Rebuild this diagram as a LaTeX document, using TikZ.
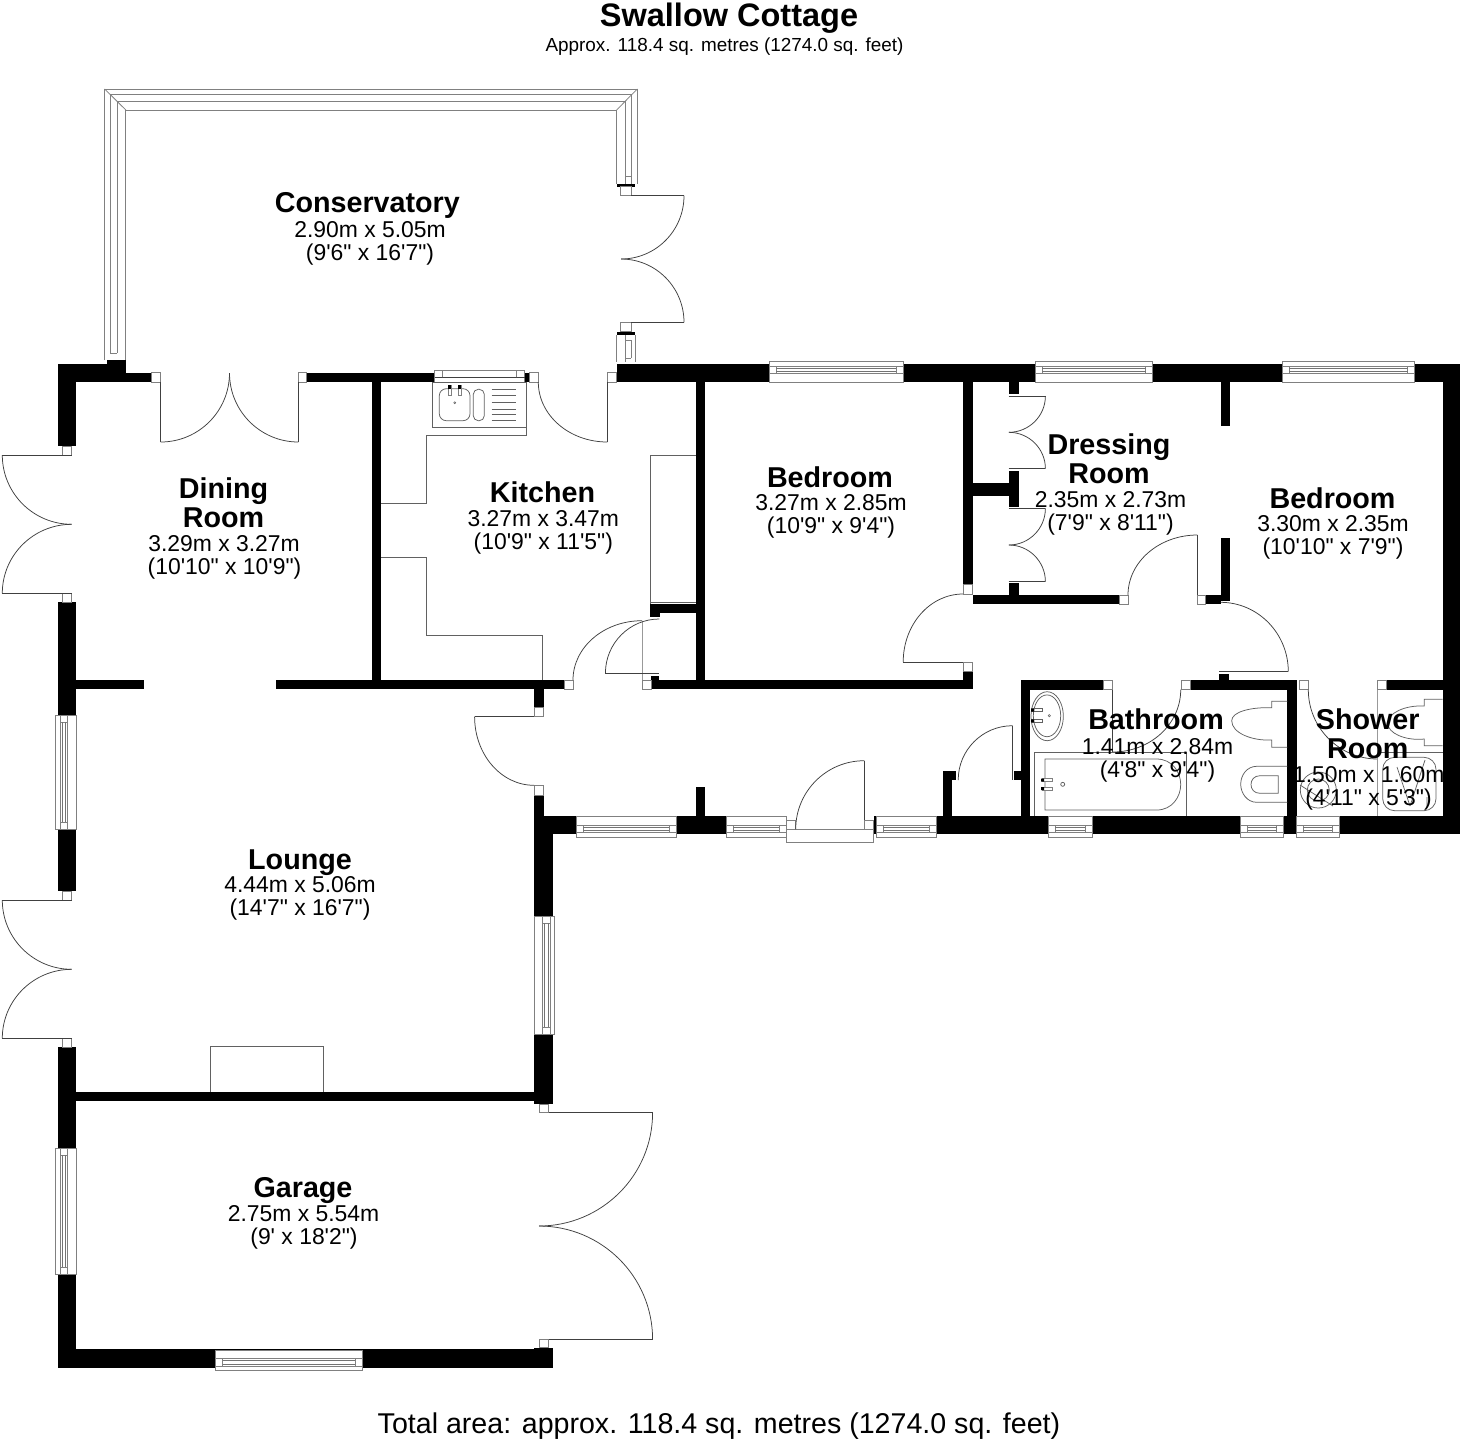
\documentclass[tikz,border=0pt]{standalone}
\usepackage{fontspec}
\usetikzlibrary{calc}
\newfontfamily\lab{Liberation Sans}
\tikzset{
  wall/.style={fill=black,draw=none},
  thinln/.style={draw=black!62,line width=0.75pt},
  darkln/.style={draw=black!75,line width=0.75pt},
  bandln/.style={draw=black!55,line width=0.7pt},
  win/.style={draw=black!50,fill=white,line width=0.75pt},
  lightln/.style={draw=black!40,line width=0.8pt},
  namelbl/.style={anchor=base,yshift=-1.3pt,inner sep=0pt,font=\lab\bfseries\fontsize{28.7}{30}\selectfont},
  sizelbl/.style={anchor=base,yshift=-0.8pt,inner sep=0pt,font=\lab\fontsize{22.9}{24}\selectfont},
}
\newcommand\Wl[4]{\fill[wall] (#1,#2) rectangle (#3,#4);}
\newcommand\Jb[4]{\filldraw[win] (#1,#2) rectangle (#3,#4);}
\newcommand\Qa[6]{\draw[darkln] (#1,#2) .. controls ($(#1,#2)!0.5523!(#3,#4)$) and ($(#5,#6)!0.5523!(#3,#4)$) .. (#5,#6);}
\newcommand\WinH[4]{\begin{scope}[shift={(#1,#3)},yscale=#4]\pgfmathsetmacro\ww{#2-#1}\pgfmathsetmacro\wi{\ww-7}
  \filldraw[win] (0,0) rectangle (\ww,20.6);
  \draw[win] (0,8.6) -- (\ww,8.6) (0,16) -- (\ww,16) (7,8.6) -- (7,16) (\wi,8.6) -- (\wi,16);
  \draw[bandln] (7,10.8) -- (\wi,10.8) (7,14) -- (\wi,14);
\end{scope}}
\newcommand\WinV[4]{\begin{scope}[shift={(#3,#1)},xscale=#4]\pgfmathsetmacro\ww{#2-#1}\pgfmathsetmacro\wi{\ww-7}
  \filldraw[win] (0,0) rectangle (20.6,\ww);
  \draw[win] (8.6,0) -- (8.6,\ww) (16,0) -- (16,\ww) (8.6,7) -- (16,7) (8.6,\wi) -- (16,\wi);
  \draw[bandln] (10.8,7) -- (10.8,\wi) (14,7) -- (14,\wi);
\end{scope}}
\begin{document}
\begin{tikzpicture}[x=1pt,y=-1pt]
\path[use as bounding box,fill=white] (0,0) rectangle (1463,1444);
% ---- conservatory frame
\draw[win,fill=none] (104.7,360) -- (104.7,89) -- (637.3,89) -- (637.3,184);
\draw[win,fill=none] (110,353) -- (110,94) -- (631,94) -- (631,184);
\draw[win,fill=none] (117,353) -- (117,101) -- (625.3,101) -- (625.3,184);
\draw[win,fill=none] (125.8,360) -- (125.8,110) -- (616.6,110) -- (616.6,184);
\draw[win,fill=none] (104.7,89) -- (125.8,110) (637.3,89) -- (616.6,110);
\draw[win,fill=none] (110,353) -- (117,353) (625.3,176) -- (631,176);
\Wl{616.6}{184}{635}{186.7}
\Jb{620.8}{186.7}{631.3}{195.7}
\Jb{620.8}{322.3}{631.3}{331.7}
\Wl{616.6}{331.7}{635}{335}
\draw[win,fill=none] (616.6,335) -- (616.6,362) (635,335) -- (635,362) (625.3,335) -- (625.3,362) (631,340) -- (631,358) (625.3,340) -- (631,340) (625.3,358) -- (631,358);
% ---- walls
\Wl{57.7}{364}{76.3}{446}
\Wl{57.7}{364}{125.8}{381.7}
\Wl{107.4}{360}{125.8}{364}
\Wl{125.8}{372.7}{151.5}{381.7}
\Wl{306.7}{372.7}{434.8}{381.7}
\Wl{372.3}{381.7}{381.3}{680}
\Wl{524.7}{372.7}{529}{382}
\Wl{616.7}{364}{1460}{382}
\Wl{1442.5}{364}{1460}{834}
\Wl{695.7}{382}{705}{689.3}
\Wl{650.3}{604}{705}{613.3}
\Wl{650.3}{604}{659.7}{617.3}
\Wl{651}{680}{972.5}{689.3}
\Wl{651}{676}{659.3}{689.3}
\Wl{963}{671}{972.5}{689.3}
\Wl{963}{382}{972.5}{584}
\Wl{972.5}{482.7}{1008.5}{495.7}
\Wl{1008.5}{382}{1018.5}{394.3}
\Wl{1008.5}{470.7}{1018.5}{507.3}
\Wl{1008.5}{583}{1018.5}{595}
\Wl{972.5}{595}{1118.9}{604.3}
\Wl{1220.5}{382}{1230.3}{425.7}
\Wl{1220.5}{537.7}{1230.3}{601}
\Wl{1205.8}{595}{1220.5}{604.3}
\Wl{57.7}{602.3}{76.3}{715}
\Wl{57.7}{829}{76.3}{891.3}
\Wl{57.7}{1047}{76.3}{1148.3}
\Wl{57.7}{1274.3}{76.3}{1368.3}
\Wl{76.3}{680}{143.7}{689.3}
\Wl{275.7}{680}{564}{689.3}
\Wl{534}{689.3}{543.5}{707.7}
\Wl{534}{795}{543.5}{816}
\Wl{534}{816}{552.9}{916}
\Wl{534}{1034}{552.9}{1104}
\Wl{534}{816}{786.4}{834}
\Wl{873.6}{816}{1460}{834}
\Wl{76.3}{1091.7}{534.3}{1101}
\Wl{57.7}{1349.3}{552.9}{1368.3}
\Wl{534.3}{1347.7}{552.9}{1368.3}
\Wl{695.7}{787.3}{705.4}{816}
\Wl{942.5}{771}{952}{816}
\Wl{942.5}{771}{956.4}{780}
\Wl{1014}{771}{1021}{780}
\Wl{1021}{680}{1030.3}{816}
\Wl{1021}{680}{1103.3}{689.7}
\Wl{1190}{680}{1296.7}{689.7}
\Wl{1287.3}{689}{1296.7}{834}
\Wl{1386}{680}{1443}{689.7}
\Wl{1219.3}{674}{1229}{681}
% ---- windows
\WinH{769}{903}{382}{-1}
\WinH{1035.3}{1152.8}{382}{-1}
\WinH{1282.3}{1414.8}{382}{-1}
\WinH{576.4}{676.4}{816.5}{1}
\WinH{726.4}{786.4}{816.5}{1}
\WinH{876.4}{936.4}{816.5}{1}
\WinH{1048.3}{1092.3}{816.5}{1}
\WinH{1240.7}{1283.7}{816.5}{1}
\WinH{1296.3}{1339}{816.5}{1}
\WinH{215.5}{362}{1350}{1}
\WinV{715}{829}{76.3}{-1}
\WinV{1148.3}{1274.3}{76.3}{-1}
\WinV{916}{1034}{534}{1}
% sink window
\filldraw[win] (434.7,370) rectangle (524.7,382);
\draw[darkln] (434.7,377.3) -- (524.7,377.3);
\draw[win] (442.3,370) -- (442.3,377.3) (516.7,370) -- (516.7,377.3);
% ---- door jambs
\Jb{151.5}{372.7}{160.7}{382}
\Jb{298.4}{372.7}{306.7}{382}
\Jb{529}{372.7}{538.3}{382}
\Jb{607.3}{372.7}{616.7}{382}
\Jb{62.3}{446}{71.7}{455}
\Jb{62.3}{593.3}{71.7}{602.3}
\Jb{62.3}{891.3}{71.7}{900}
\Jb{62.3}{1038.3}{71.7}{1047}
\Jb{539}{1104}{548.6}{1112.7}
\Jb{539}{1339.3}{548.6}{1347.7}
\Jb{564}{680}{573}{689.3}
\Jb{642}{680}{651}{689.3}
\Jb{534}{707.7}{543.5}{716.7}
\Jb{534}{785.3}{543.5}{795}
\Jb{963}{662}{972.5}{671}
\Jb{963}{584}{972.5}{594}
\Jb{1118.9}{595}{1128}{604.3}
\Jb{1197.4}{595}{1205.8}{604.3}
\Jb{1103.3}{680}{1112.7}{689.7}
\Jb{1181.7}{680}{1190}{689.7}
\Jb{1299}{680}{1308.3}{689.7}
\Jb{1377.7}{680}{1386}{689.7}
% front door
\Jb{786.4}{829.3}{873.6}{842}
\Jb{786.4}{820}{795.7}{829.3}
\Jb{864.3}{820}{873.6}{829.3}
% ---- door leaves and swings
\draw[darkln] (160.7,382) -- (160.7,442) (298.4,382) -- (298.4,442);
\Qa{160.7}{442}{229.5}{442}{229.5}{373}
\Qa{229.5}{373}{229.5}{442}{298.4}{442}
\draw[darkln] (631,195.7) -- (684,195.7) (631,322.3) -- (684,322.3);
\Qa{684}{195.7}{684}{259}{621}{259}
\Qa{621}{259}{684}{259}{684}{322.3}
\draw[darkln] (71.7,455) -- (2.3,455) (71.7,593.3) -- (2.3,593.3);
\Qa{2.3}{455}{2.3}{524.3}{71.7}{524.3}
\Qa{71.7}{524.3}{2.3}{524.3}{2.3}{593.3}
\draw[darkln] (71.7,900) -- (2.3,900) (71.7,1038.3) -- (2.3,1038.3);
\Qa{2.3}{900}{2.3}{969.3}{71.7}{969.3}
\Qa{71.7}{969.3}{2.3}{969.3}{2.3}{1038.3}
\draw[darkln] (548.6,1112.7) -- (652.6,1112.7) (548.6,1339.3) -- (652.6,1339.3);
\Qa{652.6}{1112.7}{652.6}{1226}{539}{1226}
\Qa{539}{1226}{652.6}{1226}{652.6}{1339.3}
\draw[darkln] (607.3,382) -- (607.3,442);
\Qa{538.3}{382}{538.3}{442}{607.3}{442}
\draw[lightln] (642,620.7) -- (642,680);
\Qa{573}{680}{573}{620.7}{642}{620.7}
\draw[darkln] (605.4,673.3) -- (659.3,673.3);
\Qa{659.3}{619}{605.4}{619}{605.4}{673.3}
\draw[darkln] (903.2,662) -- (963,662);
\Qa{903.2}{662}{903.2}{594}{963}{594}
\draw[darkln] (474.6,716.7) -- (534,716.7);
\Qa{534}{785.3}{474.6}{785.3}{474.6}{716.7}
\draw[darkln] (864.3,760.7) -- (864.3,820);
\Qa{795.7}{829.3}{795.7}{760.7}{864.3}{760.7}
\draw[darkln] (1012.5,725.7) -- (1012.5,780);
\Qa{958.2}{780}{958.2}{725.7}{1012.5}{725.7}
\draw[darkln] (1008.5,396) -- (1045.4,396) (1008.5,468.7) -- (1045.4,468.7) (1008.5,508.3) -- (1045.4,508.3) (1008.5,581.7) -- (1045.4,581.7);
\Qa{1045.4}{396}{1045.4}{432.3}{1008.8}{432.3}
\Qa{1008.8}{432.3}{1045.4}{432.3}{1045.4}{468.7}
\Qa{1045.4}{508.3}{1045.4}{545}{1008.8}{545}
\Qa{1008.8}{545}{1045.4}{545}{1045.4}{581.7}
\draw[darkln] (1197.4,535) -- (1197.4,595);
\Qa{1128}{595}{1128}{535}{1197.4}{535}
\draw[darkln] (1219.3,671.7) -- (1288.3,671.7);
\Qa{1220.5}{602.3}{1288.3}{602.3}{1288.3}{671.7}
\draw[darkln] (1112.7,689.7) -- (1112.7,752);
\Qa{1112.7}{752}{1180.7}{752}{1180.7}{689.7}
\Qa{1308.3}{689.7}{1308.3}{759}{1377.7}{759}
% ---- kitchen units
\draw[thinln] (526.7,382) -- (526.7,435.3) -- (426.7,435.3) -- (426.7,503.3) -- (381.3,503.3);
\draw[thinln] (381.3,557) -- (426.7,557) -- (426.7,635) -- (542.3,635) -- (542.3,680);
\draw[thinln] (432.7,382) rectangle (526.7,427.7);
\draw[thinln,rounded corners=7pt] (439.3,388.7) rectangle (470,420.7);
\draw[thinln,rounded corners=5pt] (473.3,389.3) rectangle (484.3,420.7);
\draw[thinln] (491.7,389.3) -- (516,389.3) (491.7,395.7) -- (516,395.7) (491.7,402) -- (516,402) (491.7,409.3) -- (516,409.3) (491.7,414.3) -- (516,414.3) (491.7,420.7) -- (516,420.7);
\filldraw[win] (448.3,385) rectangle (451.3,395.7);
\filldraw[win] (458.3,385) rectangle (461.3,395.7);
\fill[black] (448.3,385) rectangle (451.3,389);
\fill[black] (458.3,385) rectangle (461.3,389);
\draw[thinln,line width=0.5pt] (454.7,402.7) circle (1pt);
\draw[thinln] (650.3,604) -- (650.3,455.3) -- (695.7,455.3);
\draw[thinln] (650.3,602.7) -- (695.7,602.7);
% fireplace
\draw[thinln] (209.9,1091.7) -- (209.9,1046) -- (323.5,1046) -- (323.5,1091.7);
% ---- bathroom fittings
\draw[thinln] (1047.15,716.2) ellipse [x radius=16.2,y radius=24.5];
\draw[thinln] (1047,715.8) ellipse [x radius=13.7,y radius=20.9];
\draw[thinln] (1031.7,708.7) rectangle (1042.3,711.7);
\draw[thinln] (1031.7,719.3) rectangle (1042.3,722.3);
\fill[black] (1031,708.7) rectangle (1034,711.7) (1031,719.3) rectangle (1034,722.3);
\draw[thinln,line width=0.5pt] (1049.3,715.7) circle (1.2pt);
\draw[thinln] (1034.3,815.7) -- (1034.3,752.3) -- (1186.7,752.3) -- (1186.7,815.7);
\draw[thinln] (1156.7,759) -- (1045,759) -- (1045,810) -- (1156.7,810) .. controls (1172,810) and (1180.7,797) .. (1180.7,784.5) .. controls (1180.7,772) and (1172,759) .. (1156.7,759);
\filldraw[win] (1042,778.5) rectangle (1052,781.5);
\filldraw[win] (1042,787) rectangle (1052,790);
\fill[black] (1041,778.5) rectangle (1044,781.5) (1041,787) rectangle (1044,790);
\draw[thinln] (1062.7,784.3) circle (2pt);
% wc and bidet
\draw[thinln] (1287.3,701.3) -- (1271.7,701.3) -- (1271.7,707.7) .. controls (1250,707) and (1231.7,712) .. (1231.7,720.7) .. controls (1231.7,733) and (1252,741) .. (1271.7,740) -- (1271.7,747.3) -- (1287.3,747.3);
\draw[thinln] (1287.3,766.3) -- (1256.7,766.3) .. controls (1247,766.3) and (1240.7,775) .. (1240.7,784.3) .. controls (1240.7,793) and (1247,802.3) .. (1256.7,802.3) -- (1287.3,802.3);
\draw[thinln] (1278.3,775.7) -- (1260,775.7) .. controls (1254,775.7) and (1251,780) .. (1251,784.5) .. controls (1251,789) and (1254,793.3) .. (1260,793.3) -- (1278.3,793.3) -- cycle;
% ---- shower room fittings
\draw[lightln] (1377.5,689.7) -- (1377.5,815.7);
\draw[thinln] (1377.5,752.7) -- (1442.5,752.7);
\draw[thinln] (1442.5,699.3) -- (1424.3,699.3) -- (1424.3,706) .. controls (1405,705) and (1387.7,713) .. (1387.7,723.3) .. controls (1387.7,733) and (1405,741) .. (1424.3,739) -- (1424.3,745.7) -- (1442.5,745.7);
\draw[thinln,rounded corners=12pt] (1382.7,757.3) rectangle (1436,810.7);
\draw[thinln] (1397,767) -- (1410,806) (1425,760) -- (1410,806) (1427,797) -- (1427,808);
\draw[thinln] (1318.3,790) circle (18pt);
\draw[thinln] (1318.3,790) circle (11pt);
\draw[thinln] (1300,785) -- (1333,806);
% ---- texts
\node[anchor=base,inner sep=0pt,font=\lab\bfseries\fontsize{32.5}{34}\selectfont] (tTitle) at (729,26) {Swallow Cottage};
\node[anchor=base,inner sep=0pt,font=\lab\fontsize{18.9}{20}\selectfont] (tApprox) at (724.5,51) {Approx. 118.4 sq. metres (1274.0 sq. feet)};
\node[anchor=base,inner sep=0pt,font=\lab\fontsize{28.6}{30}\selectfont] (tTotal) at (719,1433.5) {Total area: approx. 118.4 sq. metres (1274.0 sq. feet)};
\node[namelbl] (cN) at (367.3,211) {Conservatory};
\node[sizelbl] (cA) at (370,236.5) {2.90m x 5.05m};
\node[sizelbl] (cB) at (370,259.5) {(9'6" x 16'7")};
\node[namelbl] (dN1) at (223.5,497.3) {Dining};
\node[namelbl] (dN2) at (223.5,526) {Room};
\node[sizelbl] (dA) at (224,550.7) {3.29m x 3.27m};
\node[sizelbl] (dB) at (224.5,573.5) {(10'10" x 10'9")};
\node[namelbl] (kN) at (542.5,501) {Kitchen};
\node[sizelbl] (kA) at (543.3,525.5) {3.27m x 3.47m};
\node[sizelbl] (kB) at (543.3,548.5) {(10'9" x 11'5")};
\node[namelbl] (bN) at (830,486) {Bedroom};
\node[sizelbl] (bA) at (831,510) {3.27m x 2.85m};
\node[sizelbl] (bB) at (831,533) {(10'9" x 9'4")};
\node[namelbl] (rN1) at (1109,452.7) {Dressing};
\node[namelbl] (rN2) at (1109,482) {Room};
\node[sizelbl] (rA) at (1110.5,506.7) {2.35m x 2.73m};
\node[sizelbl] (rB) at (1110.5,529.5) {(7'9" x 8'11")};
\node[namelbl] (eN) at (1332.5,506.7) {Bedroom};
\node[sizelbl] (eA) at (1333,530.7) {3.30m x 2.35m};
\node[sizelbl] (eB) at (1333,553.5) {(10'10" x 7'9")};
\node[namelbl] (hN) at (1156,728.3) {Bathroom};
\node[sizelbl] (hA) at (1157.5,753.3) {1.41m x 2.84m};
\node[sizelbl] (hB) at (1157.5,776.7) {(4'8" x 9'4")};
\node[namelbl] (sN1) at (1367.7,728.3) {Shower};
\node[namelbl] (sN2) at (1367.7,757) {Room};
\node[sizelbl] (sA) at (1368.8,781.7) {1.50m x 1.60m};
\node[sizelbl] (sB) at (1368.5,804.5) {(4'11" x 5'3")};
\node[namelbl] (lN) at (300,868) {Lounge};
\node[sizelbl] (lA) at (300,892) {4.44m x 5.06m};
\node[sizelbl] (lB) at (300,915) {(14'7" x 16'7")};
\node[namelbl] (gN) at (303,1195.7) {Garage};
\node[sizelbl] (gA) at (303.5,1221) {2.75m x 5.54m};
\node[sizelbl] (gB) at (304,1243.5) {(9' x 18'2")};
\end{tikzpicture}
\end{document}
